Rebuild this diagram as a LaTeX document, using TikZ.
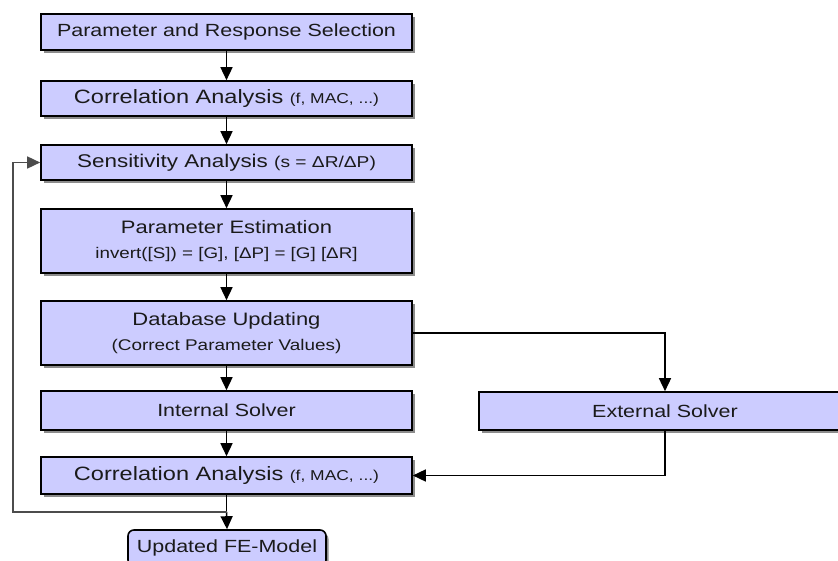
\documentclass[tikz,border=0pt]{standalone}
\usepackage{fontspec}
\setmainfont{Liberation Sans}[FakeStretch=1.22]
\usetikzlibrary{arrows.meta,shadows}
\definecolor{boxfill}{HTML}{CCCCFF}
\definecolor{txt}{HTML}{1A1A1A}
\newcommand\fsz[1]{\fontsize{#1}{#1}\selectfont}
\begin{document}
\begin{tikzpicture}[x=1pt,y=-1pt,
  box/.style={draw=black, line width=1.6pt, fill=boxfill, minimum width=371pt,
    inner sep=0pt, align=center, text=txt,
    drop shadow={shadow xshift=2.5pt, shadow yshift=-3pt, fill=black!45, opacity=1}},
  arr/.style={line width=1.5pt, -{Triangle[length=13pt,width=12pt]}},
  loopline/.style={line width=1.5pt, draw=black!70},
]
\useasboundingbox (0,0) rectangle (838,561);

\node[box, minimum height=36pt] (b1) at (226.5,32) {\fsz{17.6}Parameter and Response Selection};
\node[box, minimum height=35pt] (b2) at (226.5,98.5) {\fsz{19.3}Correlation Analysis {\fsz{14.3}(f, MAC, ...)}};
\node[box, minimum height=35pt] (b3) at (226.5,162.5) {\fsz{18.4}Sensitivity Analysis {\fsz{15.7}(s = ΔR/ΔP)}};
\node[box, minimum height=64pt, font={\fontsize{18}{25}\selectfont}] (b4) at (226.5,241) {Parameter Estimation\\{\fsz{15.4}invert([S]) = [G], [ΔP] = [G] [ΔR]}};
\node[box, minimum height=64pt, font={\fontsize{18}{25}\selectfont}] (b5) at (226.5,333) {Database Updating\\{\fsz{15.5}(Correct Parameter Values)}};
\node[box, minimum height=39pt] (b6) at (226.5,410.5) {\fsz{17.6}Internal Solver};
\node[box, minimum height=37pt] (b7) at (226.5,475.5) {\fsz{19.3}Correlation Analysis {\fsz{14.3}(f, MAC, ...)}};
\node[box, minimum height=38pt, minimum width=372pt] (ext) at (665,411) {\fsz{17.6}External Solver};
\node[box, minimum height=36pt, minimum width=198pt, rounded corners=6pt] (fe) at (227,548) {\fsz{17.6}Updated FE-Model};

\draw[arr] (b1) -- (b2);
\draw[arr] (b2) -- (b3);
\draw[arr] (b3) -- (b4);
\draw[arr] (b4) -- (b5);
\draw[arr] (b5) -- (b6);
\draw[arr] (b6) -- (b7);
\draw[arr] (b5.east) -| (ext.north);
\draw[arr] (ext.south) |- (b7.east);

\coordinate (fbl) at (13,512);
\coordinate (fb) at (b7.south |- fbl);
\draw[line width=1.5pt] (b7.south) -- (fb);
\draw[arr] (fb) -- (fe.north);
\draw[loopline] (fb) -- (fbl) -- (fbl |- b3.west);
\draw[arr, black!70] (fbl |- b3.west) -- (b3.west);
\end{tikzpicture}
\end{document}
